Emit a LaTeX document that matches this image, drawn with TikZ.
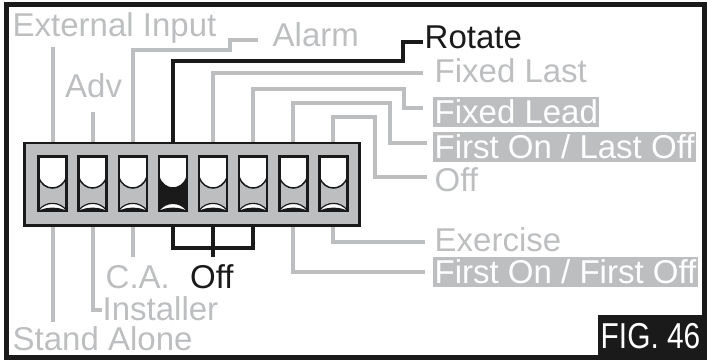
\documentclass[tikz,border=0pt]{standalone}
\usepackage{fontspec}
\setmainfont{Liberation Sans}
\newfontfamily\figfont{Liberation Sans}[FakeStretch=0.83]
\usepackage{tikz}
\usetikzlibrary{calc}
\definecolor{mGrey}{HTML}{BCBEC0}
\definecolor{mInk}{HTML}{1A1A1A}

\begin{document}
\begin{tikzpicture}[x=1pt, y=-1pt,
    lead/.style={mGrey, line width=4pt},
    blead/.style={mInk, line width=4pt},
    lbl/.style={anchor=base west, inner sep=0pt, text height=24pt, text depth=1pt,
                font=\fontsize{33}{36}\selectfont, text=mGrey},
    hlbl/.style={lbl, fill=mGrey, text=white, inner xsep=1.5pt, inner ysep=2.5pt}]
  \useasboundingbox (0,0) rectangle (707,360);
  % switch positions
  \foreach \i [evaluate=\i as \cx using 52.5+40.14*(\i-1)] in {1,...,8} {
    \coordinate (t\i) at (\cx,143);
    \coordinate (b\i) at (\cx,225.5);
  }
  % labels
  \node[lbl] (extin) at (12.5,36) {External Input};
  \node[lbl] (adv) at (65,97) {Adv};
  \node[lbl] (alarm) at (272.5,46) {Alarm};
  \node[lbl, text=mInk] (rotate) at (424.5,48) {Rotate};
  \node[lbl] (fixlast) at (434.5,82) {Fixed Last};
  \node[hlbl] (fixlead) at (433,123) {Fixed Lead};
  \node[hlbl] (folo) at (433,158) {First On / Last Off};
  \node[lbl] (offtop) at (434.5,191) {Off};
  \node[lbl] (exercise) at (434.5,251) {Exercise};
  \node[hlbl] (fofo) at (433,283) {First On / First Off};
  \node[lbl] (ca) at (105.5,288) {C.A.};
  \node[lbl, text=mInk] (offsw) at (190,288) {Off};
  \node[lbl] (installer) at (102.5,320) {Installer};
  \node[lbl] (standalone) at (12.5,350) {Stand Alone};
  % leads above
  \draw[lead] (t1) -- ($(t1 |- extin.south)+(0,10)$);
  \draw[lead] (t2) -- ($(t2 |- adv.south)+(0,14)$);
  \draw[lead] (t3) |- (230,50) |- ([xshift=-15pt,yshift=6pt]alarm.base west);
  \draw[blead] (t4) |- (402.5,61) |- ([xshift=-2pt,yshift=6.5pt]rotate.base west);
  \draw[lead] (t5) |- ([xshift=-11.5pt,yshift=9pt]fixlast.base west);
  \draw[lead] (t6) |- (403.5,88.5) |- ([xshift=-10pt,yshift=15pt]fixlead.base west);
  \draw[lead] (t7) |- (390,103) |- ([xshift=-6pt,yshift=15pt]folo.base west);
  \draw[lead] (t8) |- (375,117) |- ([xshift=-7.5pt,yshift=14pt]offtop.base west);
  % leads below
  \draw[lead] (b1) -- ($(b1 |- standalone.north)+(0,-4)$);
  \draw[lead] (b2) |- ([xshift=-0.5pt,yshift=10pt]installer.base west);
  \draw[lead] (b3) -- ($(b3 |- ca.north)+(0,-7)$);
  \draw[blead] (b4) -- ++(0,22.5) -| (b6);
  \draw[blead] (b5) -- ($(b5 |- offsw.north)+(0,-7)$);
  \draw[lead] (b7) |- ([xshift=-8pt,yshift=11pt]fofo.base west);
  \draw[lead] (b8) |- ([xshift=-9.5pt,yshift=9pt]exercise.base west);
  % dip switch body
  \filldraw[fill=mGrey, draw=mInk, line width=2.5pt] (24.5,143) rectangle (359.5,225.5);
  \foreach \i/\c in {1/mGrey, 2/mGrey, 3/mGrey, 4/mInk, 5/mGrey, 6/mGrey, 7/mGrey, 8/mGrey} {
    \pgfmathsetmacro\cx{52.5+40.14*(\i-1)}
    \fill[\c] (\cx-14,156.5) rectangle (\cx+14,211);
    \fill[white] (\cx-14,156.5) -- (\cx+14,156.5) -- (\cx+14,177)
      .. controls (\cx+9,191.7) and (\cx-9,191.7) .. (\cx-14,177) -- cycle;
    \draw[mInk, line width=1.5pt] (\cx+14,177) .. controls (\cx+9,191.7) and (\cx-9,191.7) .. (\cx-14,177);
    \fill[white] (\cx-14,210.5) .. controls (\cx-7,201) and (\cx+7,201) .. (\cx+14,210.5) -- cycle;
    \draw[mInk, line width=1.2pt] (\cx-14,210.5) .. controls (\cx-7,201) and (\cx+7,201) .. (\cx+14,210.5);
    \fill[mInk] (\cx-14,211) .. controls (\cx-7,206.5) and (\cx+7,206.5) .. (\cx+14,211) -- cycle;
    \draw[mInk, line width=2.5pt] (\cx-14,156.5) rectangle (\cx+14,211);
  }
  % figure tag and frame
  \fill[mInk] (598,315) rectangle (704,357.5);
  \node[anchor=base west, inner sep=0pt, text=white, font=\figfont\fontsize{36}{40}\selectfont]
    (fig) at (600.5,348) {FIG. 46};
  \draw[mInk, line width=5pt] (6.5,4.7) rectangle (704,357.5);
\end{tikzpicture}
\end{document}
